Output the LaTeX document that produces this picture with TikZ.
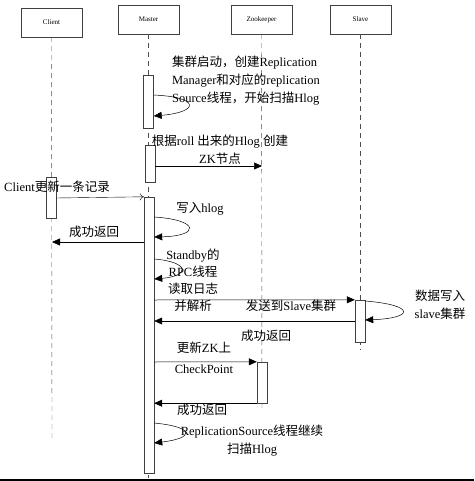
\documentclass[tikz,border=0pt]{standalone}
\usepackage{fontspec}
\setmainfont{Liberation Serif}
\newfontfamily\cjk{Noto Sans CJK SC}
\newcommand{\zh}[1]{{\cjk #1}}
\usetikzlibrary{arrows.meta}

\begin{document}
\begin{tikzpicture}[
    x=1pt, y=-1pt,
    >={Triangle[length=8pt, width=7pt]},
    actor/.style={
        rectangle,
        draw=black!75,
        fill=white,
        minimum width=61pt,
        minimum height=29pt,
        font=\fontsize{7}{8}\selectfont
    },
    lifeline/.style={
        black!70,
        dash pattern=on 5pt off 4pt
    },
    bar/.style={
        rectangle,
        draw=black!75,
        fill=white,
        minimum width=10pt,
        inner sep=0pt
    },
    msg/.style={
        ->,
        black,
        line width=0.5pt
    },
    lbl/.style={
        font=\fontsize{12.5}{18}\selectfont,
        inner sep=0pt,
        align=center
    }
]
\useasboundingbox (0,0) rectangle (474,481);

% =============== PARTICIPANTS ===============

\node[actor] (client)    at (51.5,22.5) {Client};
\node[actor] (master)    at (148.5,19.5) {Master};
\node[actor] (zookeeper) at (261.5,19.5) {Zookeeper};
\node[actor] (slave)     at (360.5,19.5) {Slave};

% lifeline ends
\coordinate (client_end)    at (52,438);
\coordinate (master_end)    at (148.5,478);
\coordinate (zookeeper_end) at (262,408);
\coordinate (slave_end)     at (360.5,350);

\draw[lifeline] (client) -- (client_end);
\draw[lifeline] (master) -- (master_end);
\draw[lifeline] (zookeeper) -- (zookeeper_end);
\draw[lifeline] (slave) -- (slave_end);

% =============== ACTIVATIONS ===============

\node[bar, minimum height=53pt]  (master_a) at (148.5,101.5) {};
\node[bar, minimum height=37pt]  (master_b) at (150,163.5) {};
\node[bar, minimum height=41pt]  (client_a) at (51,197.5) {};
\node[bar, minimum height=276pt] (master_c) at (149,335) {};
\node[bar, minimum height=42pt]  (slave_a)  at (360,321) {};
\node[bar, minimum height=41pt]  (zk_a)     at (262,382.5) {};

% =============== MESSAGES ===============

% start-up self call
\draw[msg] (master_a.east |- 0,95) .. controls (200,97) and (200,112) .. (master_a.east |- 0,116);
\node[lbl, align=left] (lbl_start) at (246,81)
    {\zh{集群启动，创建}Replication\\Manager\zh{和对应的}replication\\Source\zh{线程，开始扫描}Hlog};

% create ZK node
\coordinate (zk_node) at (262,166);
\draw[msg] (master_b.east |- zk_node) -- (zk_node);
\node[lbl] (lbl_zk) at (220,150) {\zh{根据}roll \zh{出来的}Hlog \zh{创建}\\ZK\zh{节点}};

% client update
\draw[->, >={To[length=4pt, width=7pt]}, black] (client_a.east |- 0,198) -- (master_c.north west);
\node[lbl] (lbl_update) at (57,187) {Client\zh{更新一条记录}};

% write hlog
\draw[msg] (master_c.east |- 0,217) .. controls (200,220) and (200,236) .. (master_c.east |- 0,237);
\node[lbl] (lbl_hlog) at (200,209) {\zh{写入}hlog};

% reply to client
\coordinate (client_ret) at (52,242);
\draw[msg] (master_c.west |- client_ret) -- (client_ret);
\node[lbl] (lbl_ret1) at (94,232) {\zh{成功返回}};

% standby rpc thread
\draw[msg] (master_c.east |- 0,259) .. controls (190,262) and (190,276) .. (master_c.east |- 0,279);
\node[lbl, font=\fontsize{12.5}{17}\selectfont] (lbl_rpc) at (193,280)
    {Standby\zh{的}\\RPC\zh{线程}\\\zh{读取日志}\\\zh{并解析}};

% send to slave
\draw[msg] (master_c.east |- 0,300) -- (slave_a.north west);
\node[lbl] (lbl_send) at (291,306) {\zh{发送到}Slave\zh{集群}};

% slave writes data
\draw[msg] (slave_a.east |- 0,301) .. controls (415,305) and (415,318) .. (slave_a.east |- 0,320);
\node[lbl] (lbl_slave) at (440,305) {\zh{数据写入}\\slave\zh{集群}};

% slave replies
\draw[msg] (slave_a.west |- 0,321) -- (master_c.east |- 0,321);
\node[lbl] (lbl_ret2) at (266,336) {\zh{成功返回}};

% update checkpoint
\draw[msg] (master_c.east |- 0,362) -- (zk_a.north west);
\node[lbl] (lbl_ckpt) at (204,358) {\zh{更新}ZK\zh{上}\\[3pt]CheckPoint};

% zookeeper replies
\draw[msg] (zk_a.south west) -- (master_c.east |- zk_a.south);
\node[lbl] (lbl_ret3) at (202,410) {\zh{成功返回}};

% continue scanning
\draw[msg] (master_c.east |- 0,423) .. controls (195,427) and (195,438) .. (master_c.east |- 0,443);
\node[lbl] (lbl_scan) at (252,441) {ReplicationSource\zh{线程继续}\\\zh{扫描}Hlog};

% bottom border
\coordinate (border_l) at (0,480);
\coordinate (border_r) at (474,480);
\draw[line width=1.5pt] (border_l) -- (border_r);

\end{tikzpicture}
\end{document}
